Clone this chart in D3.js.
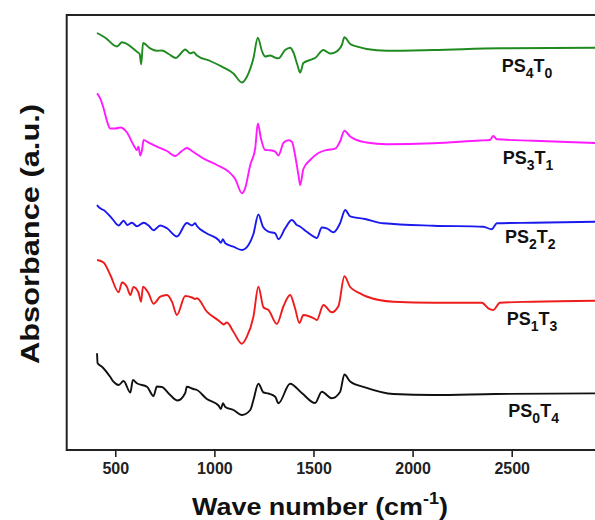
<!DOCTYPE html>
<html>
<head>
<meta charset="utf-8">
<script src="https://cdn.jsdelivr.net/npm/d3@7"></script>
<style>
  html, body { margin: 0; padding: 0; background: #fff; }
  svg { display: block; font-family: "Liberation Sans", Arial, sans-serif; }
</style>
</head>
<body>
<svg id="chart" width="595" height="520"></svg>
<script>
// FTIR spectra, stacked (wavenumber in cm^-1, absorbance in arbitrary units incl. offset)
const xTicks = [500, 1000, 1500, 2000, 2500];

const ps4t0 = [
  [408,417],[450,412.3],[509,403.5],[534,407.7],[609,398.3],[623,396],[631,385.7],[640,407],
  [676,401.7],[710,399.3],[735,399.5],[769,396],[807,392],[824,395],[853,400.5],[878,396.7],
  [895,397.7],[912,394.5],[979,389],[1038,383.3],[1096,376.5],[1139,367.5],[1164,373.3],
  [1197,391.7],[1219,412.3],[1240,399],[1256,393.5],[1281,394.5],[1307,392.3],[1323,391.7],
  [1357,400],[1382,402.3],[1399,397.5],[1419,385],[1433,377.5],[1449,387],[1483,390],
  [1508,392],[1550,400],[1584,396.5],[1609,397.7],[1643,405],[1656,412.7],[1685,406],
  [1721,403.3],[1768,401],[1869,399.3],[2105,400],[2441,401.7],[2960,402.3]
];

const ps3t1 = [
  [408,356.7],[424,351.7],[441,341.7],[458,329],[475,321.5],[500,321.5],[525,322.5],[559,317.5],
  [592,305],[609,300],[617,303.3],[626,294.5],[635,300],[643,310],[668,307.3],[710,303.3],
  [761,299],[802,294],[836,299],[861,302],[887,299],[945,291.5],[1013,285],[1071,278.5],
  [1105,271],[1139,256.7],[1155,261.7],[1181,285],[1206,301.7],[1219,326.5],[1235,311.5],
  [1256,300],[1281,299.7],[1307,298.3],[1323,294.5],[1349,307.3],[1374,309.7],[1391,308.3],
  [1407,295],[1424,275],[1433,265],[1449,281],[1483,290],[1525,297],[1567,300],[1609,301.3],
  [1634,308.5],[1656,319.3],[1685,313.5],[1718,310],[1768,307.5],[1869,305.7],[2105,306.7],
  [2340,309.5],[2390,310],[2407,314],[2425,310.7],[2609,309.3],[2960,306.7]
];

const ps2t2 = [
  [408,245],[424,241.7],[441,240],[483,231.7],[517,224.5],[542,229.2],[562,225],[584,227.3],
  [609,223.7],[643,227.3],[668,224.5],[693,219.7],[727,224.5],[761,221.7],[811,213.5],[861,227],
  [887,224.5],[903,226.7],[912,224],[962,216.5],[1021,210],[1033,207.3],[1043,210.7],[1055,206.7],
  [1096,203.3],[1139,200],[1172,205],[1197,216],[1222,235.5],[1245,223.3],[1273,218.3],
  [1307,216.7],[1323,210.7],[1357,221.7],[1391,230],[1416,225],[1433,223.3],[1466,218.3],
  [1508,212.7],[1517,212],[1542,222.5],[1567,221.7],[1601,217.7],[1634,226.7],[1660,240],
  [1685,233.7],[1760,231],[1852,226.7],[2105,224.3],[2357,223.3],[2399,220.7],[2425,226.7],
  [2609,227.3],[2960,228.3]
];

const ps1t3 = [
  [408,190],[441,187.5],[475,175],[517,157.8],[534,167.5],[559,163],[576,155],[592,163],
  [617,157.5],[630,148.3],[640,163.3],[668,156.7],[693,146.3],[727,153.3],[761,155],[786,148.3],
  [811,135],[853,154],[887,152.5],[903,151],[912,151.7],[962,138.3],[1021,129.5],[1038,126.7],
  [1046,125.5],[1063,127.5],[1096,118.3],[1139,106.3],[1164,113.3],[1197,133.3],[1222,163.3],
  [1248,142.5],[1273,140],[1315,126],[1349,144],[1382,155],[1407,141.7],[1429,127],[1449,135],
  [1508,131],[1517,130],[1550,145],[1592,137.7],[1626,144],[1656,173.7],[1685,163],[1735,156.7],
  [1768,153.5],[1903,148.3],[2105,147.3],[2349,147.3],[2382,141.7],[2407,140],[2441,147.3],
  [2609,148.3],[2960,149.3]
];

const ps0t4 = [
  [408,96.7],[411,86.7],[433,83.3],[475,73],[491,68.3],[517,65],[542,69],[576,57.5],[589,70],
  [609,66.7],[660,63.3],[693,54],[710,63.5],[735,63],[777,55],[814,49.5],[853,57],[861,63.3],
  [895,61],[912,60],[962,51],[1021,44.5],[1033,41],[1043,46.7],[1055,43],[1096,40],[1139,35],
  [1181,40],[1197,50],[1222,66.3],[1248,57.5],[1273,56.5],[1307,53.3],[1323,46.7],[1382,66.3],
  [1441,57],[1508,47],[1542,58.3],[1592,51.7],[1634,58],[1656,75.5],[1685,68.5],[1760,62.7],
  [1903,56],[2105,55],[2416,56],[2960,56.7]
];

// sample name parts: [main, sub, main, sub], label anchor (wavenumber, absorbance)
const seriesNames = [["PS","4","T","0"],["PS","3","T","1"],["PS","2","T","2"],["PS","1","T","3"],["PS","0","T","4"]];
const seriesColors = ["#1f8a1f", "#ff1aff", "#1a1aee", "#ee1c1c", "#111111"];
const seriesData = [ps4t0, ps3t1, ps2t2, ps1t3, ps0t4];
const labelPos = [[2450, 378.5], [2455, 286.5], [2466, 207], [2475, 125], [2483, 33.5]];

const svg = d3.select("#chart");
const x = d3.scaleLinear().domain([255, 2960]).range([66.7, 602.9]);
const y = d3.scaleLinear().domain([0, 435]).range([450, 15]);

const line = d3.line()
  .x(d => x(d[0]))
  .y(d => y(d[1]))
  .curve(d3.curveMonotoneX);

svg.append("defs").append("clipPath").attr("id", "plotClip")
  .append("rect").attr("x", x(255)).attr("y", y(435)).attr("width", x(2960) - x(255)).attr("height", y(0) - y(435));

const plot = svg.append("g").attr("clip-path", "url(#plotClip)");
seriesData.forEach((s, i) => {
  plot.append("path")
    .datum(s)
    .attr("d", line)
    .attr("fill", "none")
    .attr("stroke", seriesColors[i])
    .attr("stroke-width", 1.9)
    .attr("stroke-linejoin", "round");
});

// sample labels with subscripts
seriesNames.forEach((n, i) => {
  const t = svg.append("text")
    .attr("x", x(labelPos[i][0]))
    .attr("y", y(labelPos[i][1]))
    .attr("font-size", 18)
    .attr("font-weight", "bold")
    .attr("fill", "#111");
  t.append("tspan").text(n[0]);
  t.append("tspan").attr("font-size", 14).attr("dy", 6).text(n[1]);
  t.append("tspan").attr("dy", -6).text(n[2]);
  t.append("tspan").attr("font-size", 14).attr("dy", 6).text(n[3]);
});

// x axis
const xAxis = d3.axisBottom(x).tickValues(xTicks).tickFormat(d3.format("d"))
  .tickSize(7).tickPadding(6).tickSizeOuter(0);
const gx = svg.append("g").attr("transform", `translate(0,${y(0)})`).call(xAxis);
gx.select(".domain").remove();
gx.selectAll(".tick line").attr("stroke", "#222").attr("stroke-width", 1.6);
gx.selectAll(".tick text")
  .attr("font-size", 16)
  .attr("font-weight", "bold")
  .attr("font-family", "'Liberation Sans', Arial, sans-serif")
  .attr("fill", "#222");

// frame
svg.append("rect")
  .attr("x", x(255)).attr("y", y(435))
  .attr("width", x(2960) - x(255) + 10).attr("height", y(0) - y(435))
  .attr("fill", "none").attr("stroke", "#222").attr("stroke-width", 2);

// axis titles
const xt = svg.append("text")
  .attr("x", 320).attr("y", 515)
  .attr("text-anchor", "middle")
  .attr("textLength", 256).attr("lengthAdjust", "spacingAndGlyphs")
  .attr("font-size", 24).attr("font-weight", "bold").attr("fill", "#111");
xt.append("tspan").text("Wave number (cm");
xt.append("tspan").attr("font-size", 16).attr("dy", -11).text("-1");
xt.append("tspan").attr("dy", 11).text(")");

svg.append("text")
  .attr("transform", "translate(39,234) rotate(-90)")
  .attr("text-anchor", "middle")
  .attr("textLength", 260).attr("lengthAdjust", "spacingAndGlyphs")
  .attr("font-size", 25).attr("font-weight", "bold").attr("fill", "#111")
  .text("Absorbance (a.u.)");
</script>
</body>
</html>
